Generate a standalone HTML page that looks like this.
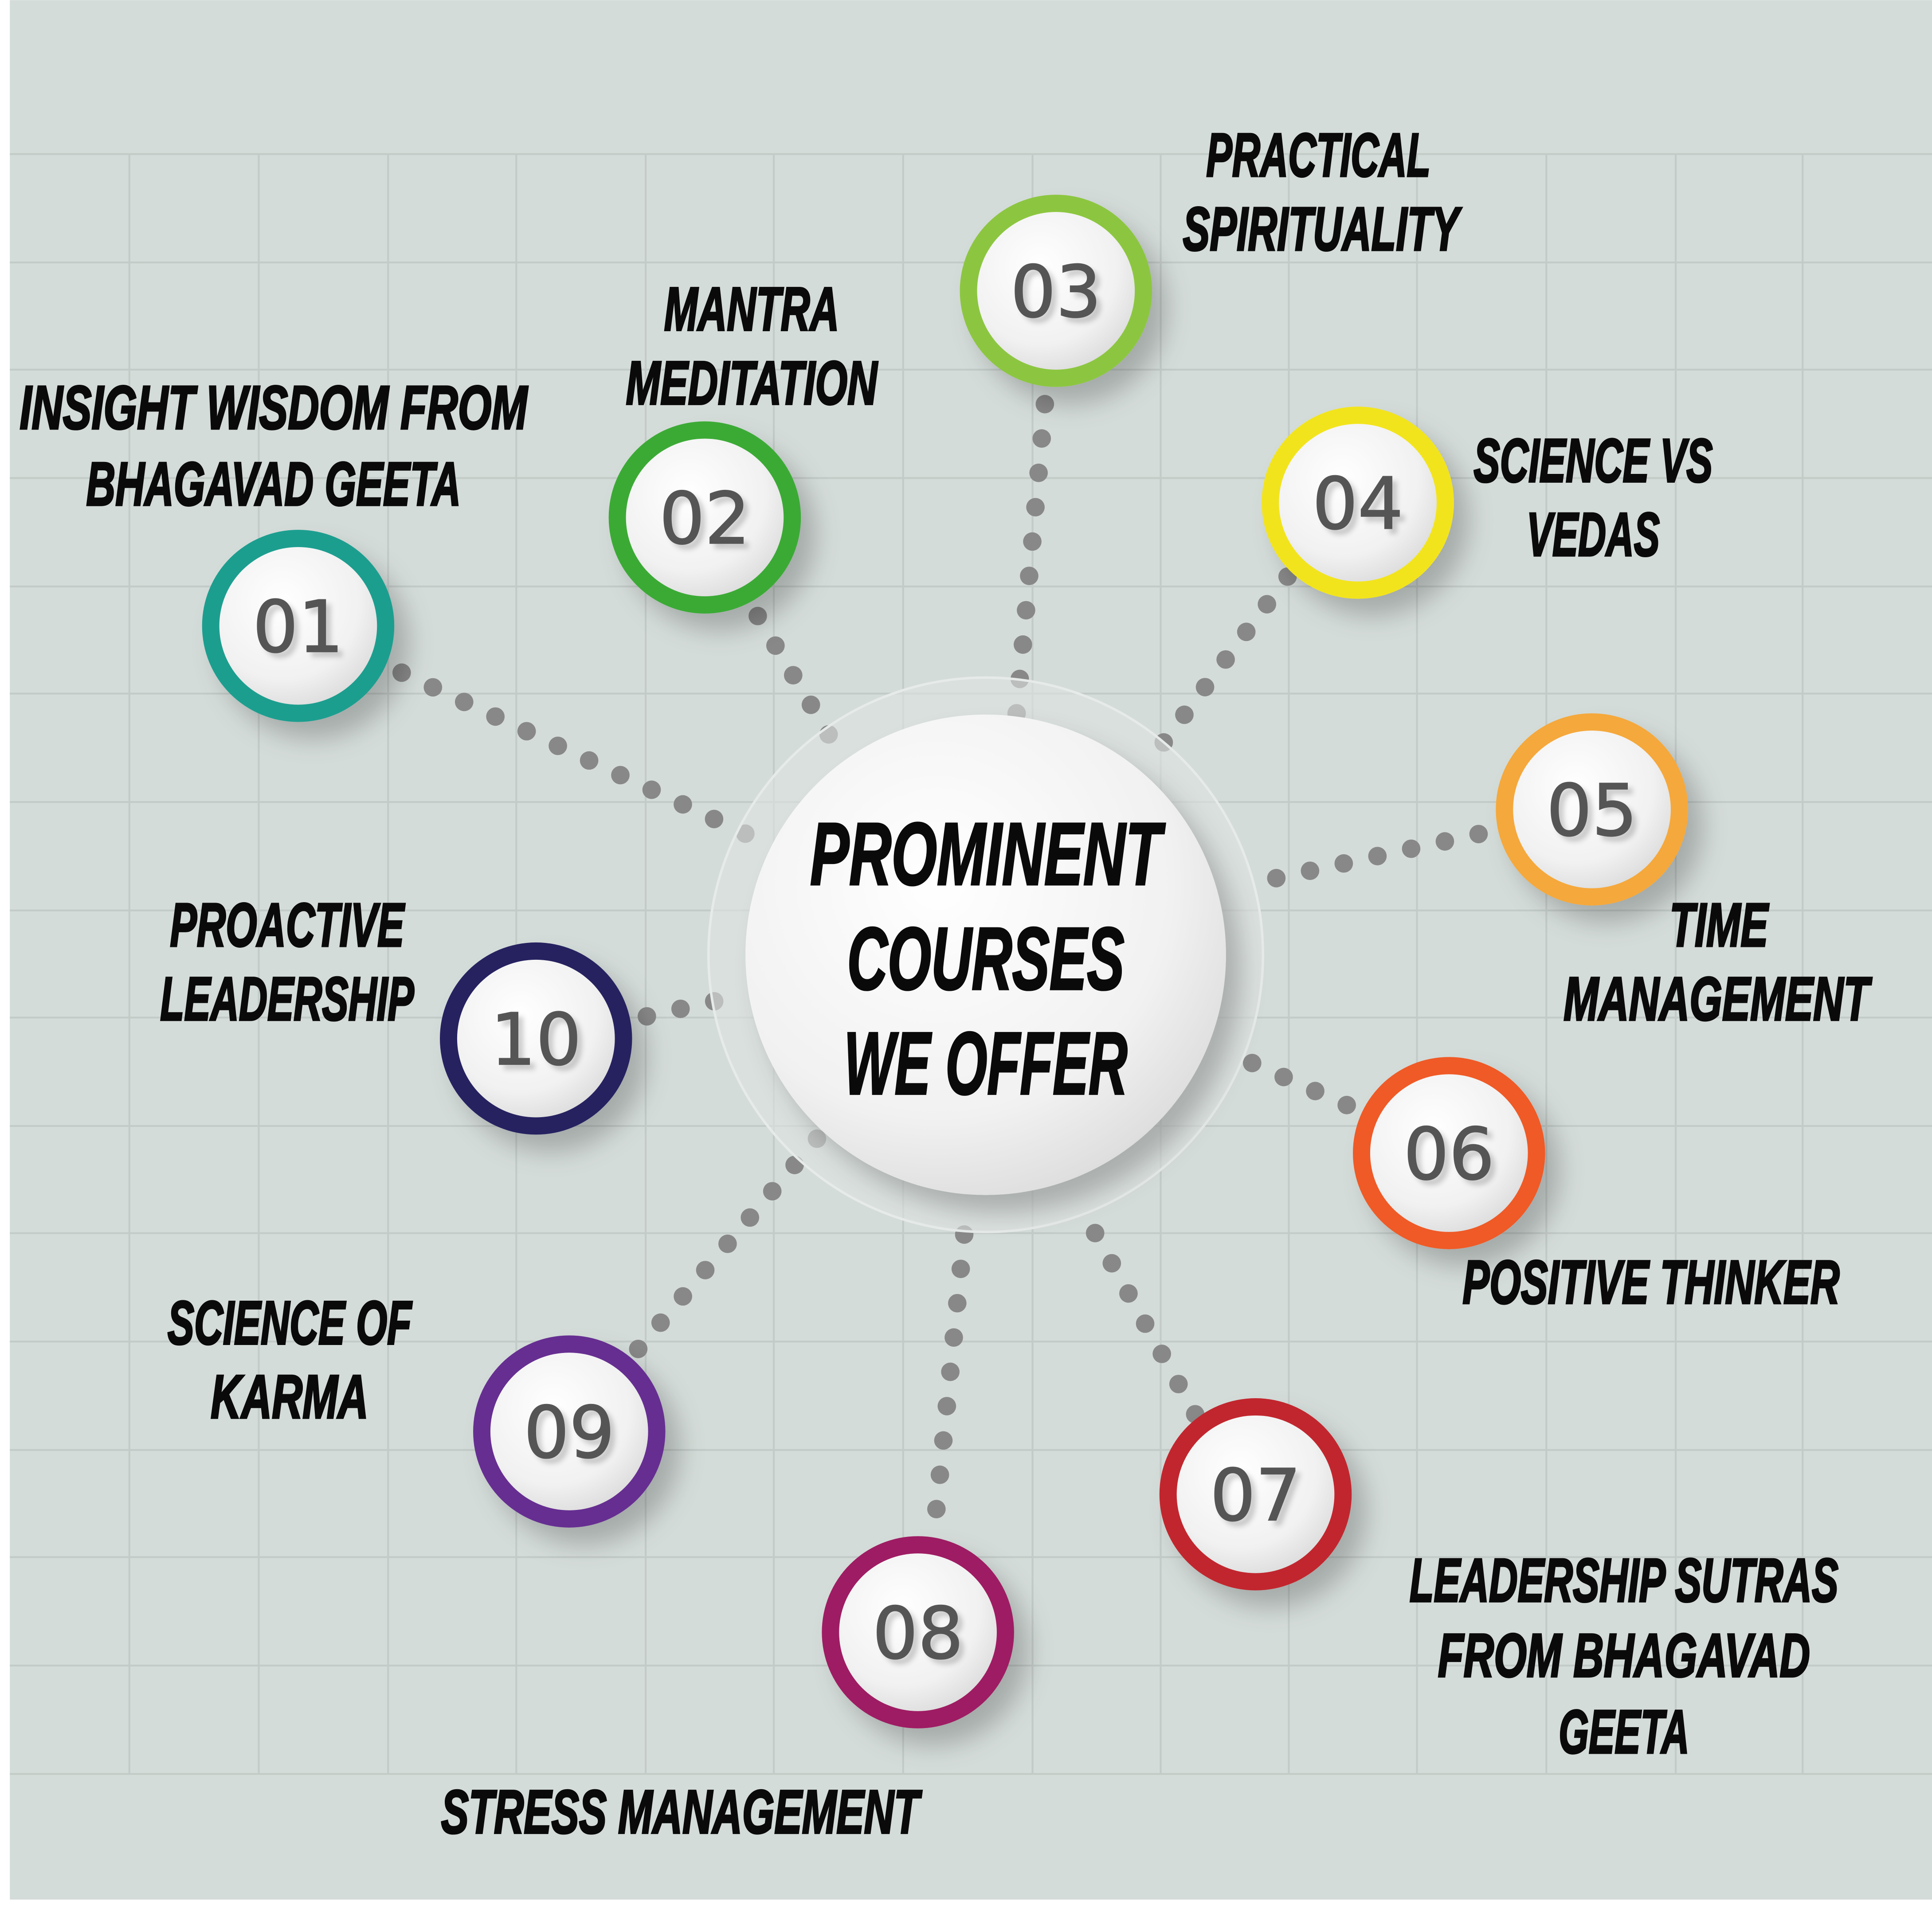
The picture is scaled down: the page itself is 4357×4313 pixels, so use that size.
<!DOCTYPE html>
<html><head><meta charset="utf-8"><style>
html,body{margin:0;padding:0;background:#fff;}
svg{display:block;}
.lb{font-family:"Liberation Sans Narrow","Liberation Sans",sans-serif;font-weight:bold;font-style:italic;fill:#0a0a0a;stroke:#0a0a0a;stroke-width:1.6;text-anchor:middle;}
.num{font-family:"DejaVu Sans","Liberation Sans",sans-serif;fill:#555;stroke:#555;stroke-width:0.8;text-anchor:middle;font-size:58px;}
.dot{stroke:#888;stroke-width:15;stroke-linecap:round;stroke-dasharray:0 28;fill:none;}
</style></head><body>
<svg width="4357" height="4313" viewBox="0 0 1568 1552" xmlns="http://www.w3.org/2000/svg">
<defs>
<radialGradient id="inner" cx="40%" cy="35%" r="70%"><stop offset="0" stop-color="#ffffff"/><stop offset="0.7" stop-color="#f1f1f1"/><stop offset="1" stop-color="#dcdcdc"/></radialGradient>
<filter id="sh" x="-50%" y="-50%" width="200%" height="200%"><feDropShadow dx="12" dy="14" stdDeviation="10" flood-color="#000" flood-opacity="0.22"/></filter>
<filter id="ts" x="-20%" y="-20%" width="140%" height="140%"><feDropShadow dx="4" dy="4" stdDeviation="2" flood-color="#000" flood-opacity="0.18"/></filter>
</defs>
<rect x="0" y="0" width="1568" height="1552" fill="#ffffff"/>
<rect x="8" y="0" width="1560" height="1542" fill="#d4dcd9"/>
<g stroke="#c3cbc8" stroke-width="1.5">
<line x1="8" y1="125" x2="1568" y2="125"/><line x1="8" y1="213" x2="1568" y2="213"/><line x1="8" y1="300" x2="1568" y2="300"/><line x1="8" y1="388" x2="1568" y2="388"/><line x1="8" y1="476" x2="1568" y2="476"/><line x1="8" y1="563" x2="1568" y2="563"/><line x1="8" y1="651" x2="1568" y2="651"/><line x1="8" y1="739" x2="1568" y2="739"/><line x1="8" y1="826" x2="1568" y2="826"/><line x1="8" y1="914" x2="1568" y2="914"/><line x1="8" y1="1001" x2="1568" y2="1001"/><line x1="8" y1="1089" x2="1568" y2="1089"/><line x1="8" y1="1177" x2="1568" y2="1177"/><line x1="8" y1="1264" x2="1568" y2="1264"/><line x1="8" y1="1352" x2="1568" y2="1352"/><line x1="8" y1="1440" x2="1568" y2="1440"/>
<line x1="105" y1="125" x2="105" y2="1440"/><line x1="210" y1="125" x2="210" y2="1440"/><line x1="315" y1="125" x2="315" y2="1440"/><line x1="419" y1="125" x2="419" y2="1440"/><line x1="524" y1="125" x2="524" y2="1440"/><line x1="628" y1="125" x2="628" y2="1440"/><line x1="733" y1="125" x2="733" y2="1440"/><line x1="838" y1="125" x2="838" y2="1440"/><line x1="942" y1="125" x2="942" y2="1440"/><line x1="1046" y1="125" x2="1046" y2="1440"/><line x1="1150" y1="125" x2="1150" y2="1440"/><line x1="1255" y1="125" x2="1255" y2="1440"/><line x1="1360" y1="125" x2="1360" y2="1440"/><line x1="1463" y1="125" x2="1463" y2="1440"/>
</g>
<g class="dot">
<line x1="326" y1="546" x2="612" y2="680"/>
<line x1="615" y1="500" x2="682" y2="612"/>
<line x1="848" y1="328" x2="825" y2="580"/>
<line x1="1045" y1="468" x2="933" y2="618"/>
<line x1="1200" y1="677" x2="1012" y2="718"/>
<line x1="1093" y1="897" x2="1003" y2="857"/>
<line x1="970" y1="1148" x2="880" y2="985"/>
<line x1="760" y1="1225" x2="785" y2="978"/>
<line x1="518" y1="1095" x2="665" y2="922"/>
<line x1="525" y1="825" x2="592" y2="810"/>
</g>
<circle cx="800" cy="775" r="225" fill="#dde3e1" fill-opacity="0.6" stroke="#e6ebe9" stroke-width="2"/>
<circle cx="800" cy="775" r="195" fill="url(#inner)" filter="url(#sh)"/>
<g stroke-width="2.5">
<text class="lb" x="800" y="718" font-size="72" textLength="285" lengthAdjust="spacingAndGlyphs" stroke-width="2.5">PROMINENT</text>
<text class="lb" x="800" y="803" font-size="72" textLength="225" lengthAdjust="spacingAndGlyphs" stroke-width="2.5">COURSES</text>
<text class="lb" x="800" y="888" font-size="72" textLength="230" lengthAdjust="spacingAndGlyphs" stroke-width="2.5">WE OFFER</text>
</g>
<g>
<g filter="url(#sh)"><circle cx="242" cy="508" r="78" fill="#1a9e8f"/><circle cx="242" cy="508" r="64" fill="url(#inner)"/></g><text class="num" filter="url(#ts)" x="242" y="529">01</text>
<g filter="url(#sh)"><circle cx="572" cy="420" r="78" fill="#3aaa35"/><circle cx="572" cy="420" r="64" fill="url(#inner)"/></g><text class="num" filter="url(#ts)" x="572" y="441">02</text>
<g filter="url(#sh)"><circle cx="857" cy="236" r="78" fill="#8cc63f"/><circle cx="857" cy="236" r="64" fill="url(#inner)"/></g><text class="num" filter="url(#ts)" x="857" y="257">03</text>
<g filter="url(#sh)"><circle cx="1102" cy="408" r="78" fill="#f2e41a"/><circle cx="1102" cy="408" r="64" fill="url(#inner)"/></g><text class="num" filter="url(#ts)" x="1102" y="429">04</text>
<g filter="url(#sh)"><circle cx="1292" cy="657" r="78" fill="#f5a83a"/><circle cx="1292" cy="657" r="64" fill="url(#inner)"/></g><text class="num" filter="url(#ts)" x="1292" y="678">05</text>
<g filter="url(#sh)"><circle cx="1176" cy="936" r="78" fill="#ef5a28"/><circle cx="1176" cy="936" r="64" fill="url(#inner)"/></g><text class="num" filter="url(#ts)" x="1176" y="957">06</text>
<g filter="url(#sh)"><circle cx="1019" cy="1213" r="78" fill="#c1272d"/><circle cx="1019" cy="1213" r="64" fill="url(#inner)"/></g><text class="num" filter="url(#ts)" x="1019" y="1234">07</text>
<g filter="url(#sh)"><circle cx="745" cy="1325" r="78" fill="#9e1f63"/><circle cx="745" cy="1325" r="64" fill="url(#inner)"/></g><text class="num" filter="url(#ts)" x="745" y="1346">08</text>
<g filter="url(#sh)"><circle cx="462" cy="1162" r="78" fill="#662d91"/><circle cx="462" cy="1162" r="64" fill="url(#inner)"/></g><text class="num" filter="url(#ts)" x="462" y="1183">09</text>
<g filter="url(#sh)"><circle cx="435" cy="843" r="78" fill="#262261"/><circle cx="435" cy="843" r="64" fill="url(#inner)"/></g><text class="num" filter="url(#ts)" x="435" y="864">10</text>
</g>
<g font-size="50">
<text class="lb" x="222" y="348" textLength="412" lengthAdjust="spacingAndGlyphs">INSIGHT WISDOM FROM</text>
<text class="lb" x="222" y="410" textLength="304" lengthAdjust="spacingAndGlyphs">BHAGAVAD GEETA</text>
<text class="lb" x="610" y="268" textLength="142" lengthAdjust="spacingAndGlyphs">MANTRA</text>
<text class="lb" x="610" y="328" textLength="204" lengthAdjust="spacingAndGlyphs">MEDITATION</text>
<text class="lb" x="1070" y="143" textLength="182" lengthAdjust="spacingAndGlyphs">PRACTICAL</text>
<text class="lb" x="1072" y="203" textLength="224" lengthAdjust="spacingAndGlyphs">SPIRITUALITY</text>
<text class="lb" x="1293" y="391" textLength="194" lengthAdjust="spacingAndGlyphs">SCIENCE VS</text>
<text class="lb" x="1293" y="451" textLength="108" lengthAdjust="spacingAndGlyphs">VEDAS</text>
<text class="lb" x="1395" y="768" textLength="80" lengthAdjust="spacingAndGlyphs">TIME</text>
<text class="lb" x="1393" y="828" textLength="248" lengthAdjust="spacingAndGlyphs">MANAGEMENT</text>
<text class="lb" x="1340" y="1058" textLength="306" lengthAdjust="spacingAndGlyphs">POSITIVE THINKER</text>
<text class="lb" x="1318" y="1300" textLength="348" lengthAdjust="spacingAndGlyphs">LEADERSHIP SUTRAS</text>
<text class="lb" x="1318" y="1361" textLength="302" lengthAdjust="spacingAndGlyphs">FROM BHAGAVAD</text>
<text class="lb" x="1318" y="1423" textLength="106" lengthAdjust="spacingAndGlyphs">GEETA</text>
<text class="lb" x="552" y="1488" textLength="388" lengthAdjust="spacingAndGlyphs">STRESS MANAGEMENT</text>
<text class="lb" x="235" y="1091" textLength="198" lengthAdjust="spacingAndGlyphs">SCIENCE OF</text>
<text class="lb" x="235" y="1151" textLength="128" lengthAdjust="spacingAndGlyphs">KARMA</text>
<text class="lb" x="233" y="768" textLength="190" lengthAdjust="spacingAndGlyphs">PROACTIVE</text>
<text class="lb" x="233" y="828" textLength="206" lengthAdjust="spacingAndGlyphs">LEADERSHIP</text>
</g>
</svg>
</body></html>
